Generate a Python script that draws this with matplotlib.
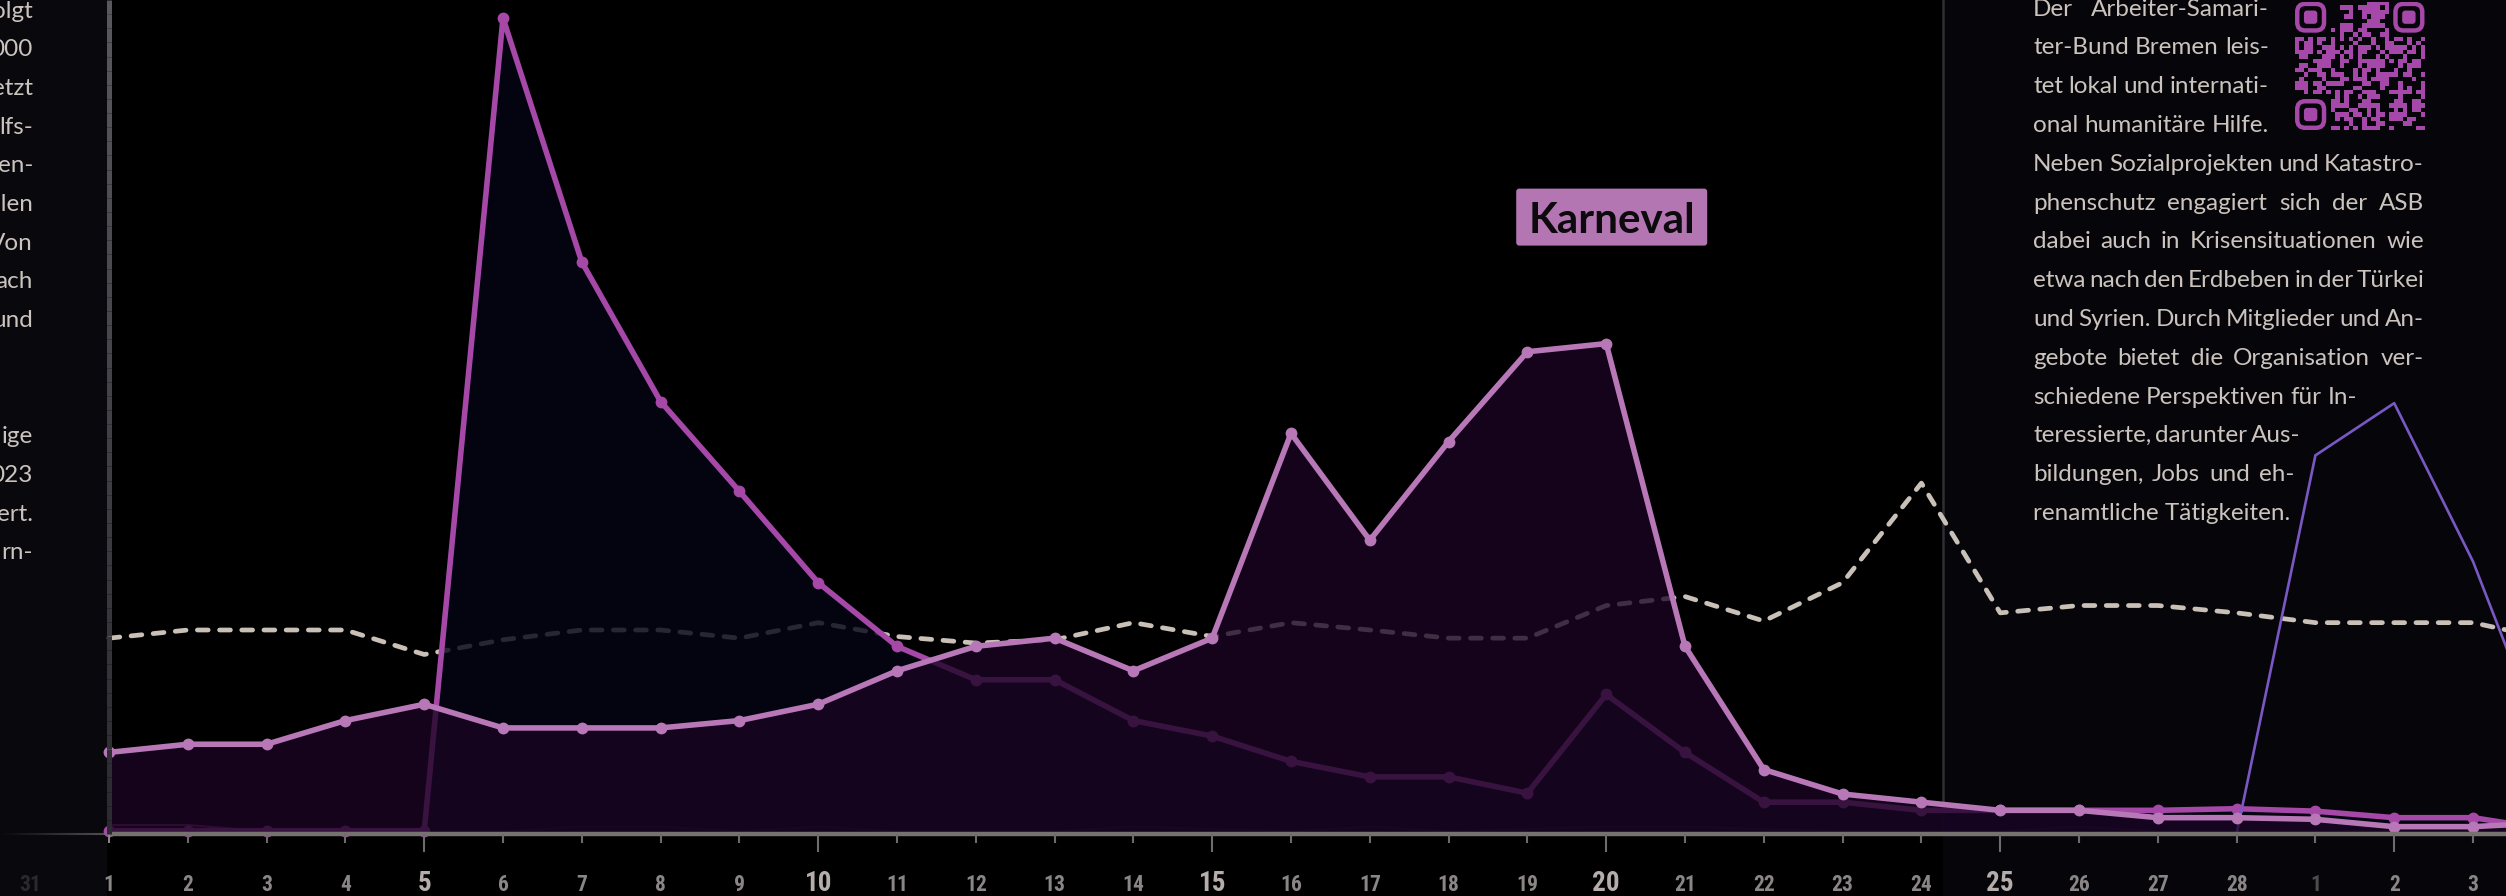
import hashlib
import numpy as np
import matplotlib
matplotlib.use("Agg")
import matplotlib.pyplot as plt
from matplotlib import font_manager
from matplotlib.collections import LineCollection
from matplotlib.colors import ListedColormap, to_rgba
from matplotlib.patches import FancyBboxPatch
from matplotlib.transforms import IdentityTransform

# =====================================================
# DATA  (index 0 = 1. Februar ... index 31 = 4. Maerz)
# =====================================================

days = list(range(1, 29)) + [1, 2, 3, 4]
axis_days = [31] + list(range(1, 29)) + [1, 2, 3]

karneval = [10.0, 11.0, 11.0, 13.9, 15.9, 13.0, 13.0, 13.0, 13.9, 15.9,
            20.0, 23.0, 24.0, 20.0, 24.0, 49.1, 36.0, 48.1, 59.1, 60.1,
            23.0, 7.9, 4.9, 3.9, 2.9, 2.9, 2.0, 2.0, 1.8, 0.9, 0.9, 1.4]

erdbeben = [0.4, 0.4, 0.4, 0.4, 0.4, 100.0, 70.1, 53.0, 42.0, 30.8,
            23.0, 18.9, 18.9, 13.9, 12.0, 8.9, 7.0, 7.0, 5.0, 17.1,
            10.0, 3.9, 3.9, 2.9, 2.9, 2.9, 2.9, 3.1, 2.8, 2.0, 2.0, 0.5]

schnitt = [24.0, 25.0, 25.0, 25.0, 22.0, 23.8, 25.0, 25.0, 24.0, 25.9,
           24.2, 23.4, 23.8, 25.9, 24.2, 25.9, 25.0, 24.0, 24.0, 28.0,
           29.1, 26.1, 30.8, 43.0, 27.1, 28.0, 28.0, 27.1, 25.9, 25.9, 25.9, 23.8]

maerz = [0.0] * 28 + [46.4, 52.8, 33.4, 8.5]

rest = [1.1, 1.1, 0.3, 0.3, 0.3, 0.3, 0.9, 0.9, 0.3, 0.9,
        0.3, 0.3, 0.3, 0.9, 0.6, 0.3, 0.9, 0.3, 0.6, 0.9,
        0.9, 0.6, 0.3, 0.3, 0.3, 0.9, 0.3, 0.3, 0.3, 0.3, 0.3, 0.3]

left_lines = ["olgt", "000", "etzt", "lfs-", "en-", "elen", "Von", "ach", "und",
              "", "", "ige", "023", "ert.", "rn-"]

right_lines = [
    "Der Arbeiter-Samari-",
    "ter-Bund Bremen leis-",
    "tet lokal und internati-",
    "onal humanitäre Hilfe.",
    "Neben Sozialprojekten und Katastro-",
    "phenschutz engagiert sich der ASB",
    "dabei auch in Krisensituationen wie",
    "etwa nach den Erdbeben in der Türkei",
    "und Syrien. Durch Mitglieder und An-",
    "gebote bietet die Organisation ver-",
    "schiedene Perspektiven für In-",
    "teressierte, darunter Aus-",
    "bildungen, Jobs und eh-",
    "renamtliche Tätigkeiten.",
]
# right edge (px) each line is justified to, None = ragged
right_edges = [2269, 2269, 2269, 2269, 2424, 2424, 2424, 2424, 2424, 2424,
               2357, 2299, 2294, None]

# =====================================================
# LAYOUT / STYLE
# =====================================================

W, H, DPI = 2506, 896, 100
ORIGIN_X, ORIGIN_Y = 109, 834      # pixel of (1. Feb, 0)
PX_DAY, PX_UNIT = 78.8, 8.16

X0 = -ORIGIN_X / PX_DAY
X1 = (W - ORIGIN_X) / PX_DAY
Y0 = -(H - ORIGIN_Y) / PX_UNIT
Y1 = ORIGIN_Y / PX_UNIT
SPLIT_X = (1943 - ORIGIN_X) / PX_DAY

MAGENTA = "#a548a8"
PINK = "#b878b8"
PURPLE = "#7a58c4"
DASH = "#c9c0b8"
TEXT = "#cbc3bd"

names = {f.name for f in font_manager.fontManager.ttflist}
BODY = "Lato" if "Lato" in names else "DejaVu Sans"


def pick_tick_font():
    wanted = ["Liberation Sans Narrow", "Roboto Condensed", "Open Sans Condensed",
              "Noto Sans Condensed", "DejaVu Sans Condensed"]
    for nm in wanted:
        if nm in names:
            return dict(family=nm, weight="bold")
    for f in font_manager.fontManager.ttflist:
        if f.stretch in ("condensed", "semi-condensed", "extra-condensed"):
            return dict(family=f.name, stretch=f.stretch, weight="bold")
    return dict(family="DejaVu Sans", weight="bold")


TICK_FONT = pick_tick_font()

fig = plt.figure(figsize=(W / DPI, H / DPI), dpi=DPI, facecolor="#000000")
ax = fig.add_axes([0, 0, 1, 1])
ax.set_xlim(X0, X1)
ax.set_ylim(Y0, Y1)
ax.axis("off")
renderer = fig.canvas.get_renderer()

x = np.arange(len(days))

# =====================================================
# BACKGROUND PANELS
# =====================================================

ax.axvspan(X0, -0.03, color="#09080d", lw=0, zorder=0)
ax.axvspan(SPLIT_X, X1, color="#060509", lw=0, zorder=0)
ax.plot([SPLIT_X, SPLIT_X], [0, Y1], color="#2f2e33", lw=1.8, zorder=1)

# =====================================================
# SERIES
# =====================================================

ax.plot(x, rest, color="#6a2a5a", lw=1.6, zorder=2)

ax.plot(x, schnitt, color=DASH, lw=3.4, dashes=(2.3, 2.4),
        dash_capstyle="round", zorder=3)

ax.fill_between(x, erdbeben, 0, color="#050414", alpha=0.82, lw=0, zorder=4)
ax.plot(x, erdbeben, color=MAGENTA, lw=4.0, marker="o", ms=8.5,
        mew=0, solid_joinstyle="round", zorder=5)

ax.plot(x, maerz, color=PURPLE, lw=1.9, zorder=5)

ax.fill_between(x, karneval, 0, color="#1a0523", alpha=0.78, lw=0, zorder=6)
ax.plot(x, karneval, color=PINK, lw=4.0, marker="o", ms=8.5,
        mew=0, solid_joinstyle="round", zorder=7)

# =====================================================
# X AXIS
# =====================================================

ax.plot([0, X1], [-0.06, -0.06], color="#76726f", lw=3.2,
        solid_capstyle="butt", zorder=8)

fade = np.linspace(X0, 0, 40)
fade_segs = [[(fade[k], -0.06), (fade[k + 1], -0.06)] for k in range(len(fade) - 1)]
fade_cols = [to_rgba("#76726f", 0.7 * k / len(fade_segs)) for k in range(len(fade_segs))]
ax.add_collection(LineCollection(fade_segs, colors=fade_cols, lw=1.5, zorder=8))

for i in range(0, 31):
    low = -2.2 if i % 5 == 4 else -1.1
    top = 1.3 if i == 0 else 0
    ax.plot([i, i], [top, low], color="#8a8686" if i == 0 else "#6e6b6b",
            lw=1.5, solid_capstyle="butt", zorder=8)

for i, d in zip(range(-1, 31), axis_days):
    big = (0 <= i < 28) and d % 5 == 0
    if i == -1:
        col = "#2a292d"
    elif i == 28:
        col = "#4f4c4c"
    elif big:
        col = "#b4adab"
    else:
        col = "#8b8686"
    ax.text(i, -6.95, str(d), ha="center", va="baseline",
            fontsize=19.5 if big else 15.5, color=col, zorder=8, **TICK_FONT)

# left border of the chart (vertical gradient)
ys = np.linspace(0, Y1, 60)
b_segs = [[(0, ys[k]), (0, ys[k + 1])] for k in range(len(ys) - 1)]
c_lo, c_hi = np.array(to_rgba("#2a2a30")), np.array(to_rgba("#5a595e"))
b_cols = [c_lo + (c_hi - c_lo) * (ys[k] / Y1) for k in range(len(ys) - 1)]
ax.add_collection(LineCollection(b_segs, colors=b_cols, lw=3.6, zorder=9))

# =====================================================
# KARNEVAL LABEL
# =====================================================

kx, ky = ax.transData.transform((19.07, 75.6))
ax.add_patch(FancyBboxPatch((kx - 95.5, ky - 28.5), 191, 57,
                            boxstyle="round,pad=0,rounding_size=3",
                            fc="#b376b2", ec="none", transform=IdentityTransform(),
                            zorder=10))


def text_width(s, size, **kw):
    t = fig.text(0, 0, s, fontsize=size, **kw)
    w = t.get_window_extent(renderer).width
    t.remove()
    return w


k_size = 10 * 167 / text_width("Karneval", 10, family=BODY, weight="bold")
ax.text(19.07, 75.6, "Karneval", ha="center", va="center_baseline",
        fontsize=k_size, family=BODY, weight="bold", color="#0c0a0c", zorder=11)

# =====================================================
# BODY TEXT
# =====================================================

TEXT_X = 2033
ratios = []
for line, edge in zip(right_lines, right_edges):
    if edge is not None:
        ratios.append((edge - TEXT_X) / text_width(line, 10, family=BODY))
body_size = 10 * float(np.median(ratios))


def put_words(x0, y_base, line, edge):
    words = line.split(" ")
    if edge is None or len(words) < 2:
        fig.text(x0 / W, 1 - y_base / H, line, fontsize=body_size,
                 family=BODY, color=TEXT, ha="left", va="baseline")
        return
    widths = [text_width(w, body_size, family=BODY) for w in words]
    gap = (edge - x0 - sum(widths)) / (len(words) - 1)
    gap = max(gap, 0.16 * body_size * DPI / 72)
    xx = x0
    for w, wd in zip(words, widths):
        fig.text(xx / W, 1 - y_base / H, w, fontsize=body_size,
                 family=BODY, color=TEXT, ha="left", va="baseline")
        xx += wd + gap


for k, (line, edge) in enumerate(zip(right_lines, right_edges)):
    put_words(TEXT_X, 15.5 + k * 38.8, line, edge)

for k, frag in enumerate(left_lines):
    if frag:
        fig.text(33 / W, 1 - (17.5 + k * 38.7) / H, frag, fontsize=body_size,
                 family=BODY, color=TEXT, ha="right", va="baseline")

# =====================================================
# QR CODE
# =====================================================

QR = "#a548a9"
n = 29
bits = []
h = b"asb-bremen.de"
while len(bits) < n * n:
    h = hashlib.sha256(h).digest()
    for byte in h:
        bits.extend((byte >> s) & 1 for s in range(8))
grid = np.array(bits[: n * n], dtype=float).reshape(n, n)
corners = [(0, 0), (0, n - 7), (n - 7, 0)]
grid[0:8, 0:8] = 0
grid[0:8, n - 8:] = 0
grid[n - 8:, 0:8] = 0

qr_ax = fig.add_axes([2295 / W, 1 - 130 / H, 129.5 / W, 128.3 / H])
qr_ax.imshow(grid, cmap=ListedColormap([(0, 0, 0, 0), QR]), extent=(0, n, n, 0),
             interpolation="nearest", aspect="auto")
for r0, c0 in corners:
    qr_ax.add_patch(FancyBboxPatch((c0 + 0.5, r0 + 0.5), 6, 6,
                                   boxstyle="round,pad=0,rounding_size=1.8",
                                   fc="none", ec=QR, lw=3.2))
    qr_ax.add_patch(FancyBboxPatch((c0 + 2, r0 + 2), 3, 3,
                                   boxstyle="round,pad=0,rounding_size=0.7",
                                   fc=QR, ec="none"))
qr_ax.set_xlim(0, n)
qr_ax.set_ylim(n, 0)
qr_ax.axis("off")

fig.savefig("out.png", dpi=DPI, facecolor=fig.get_facecolor())
